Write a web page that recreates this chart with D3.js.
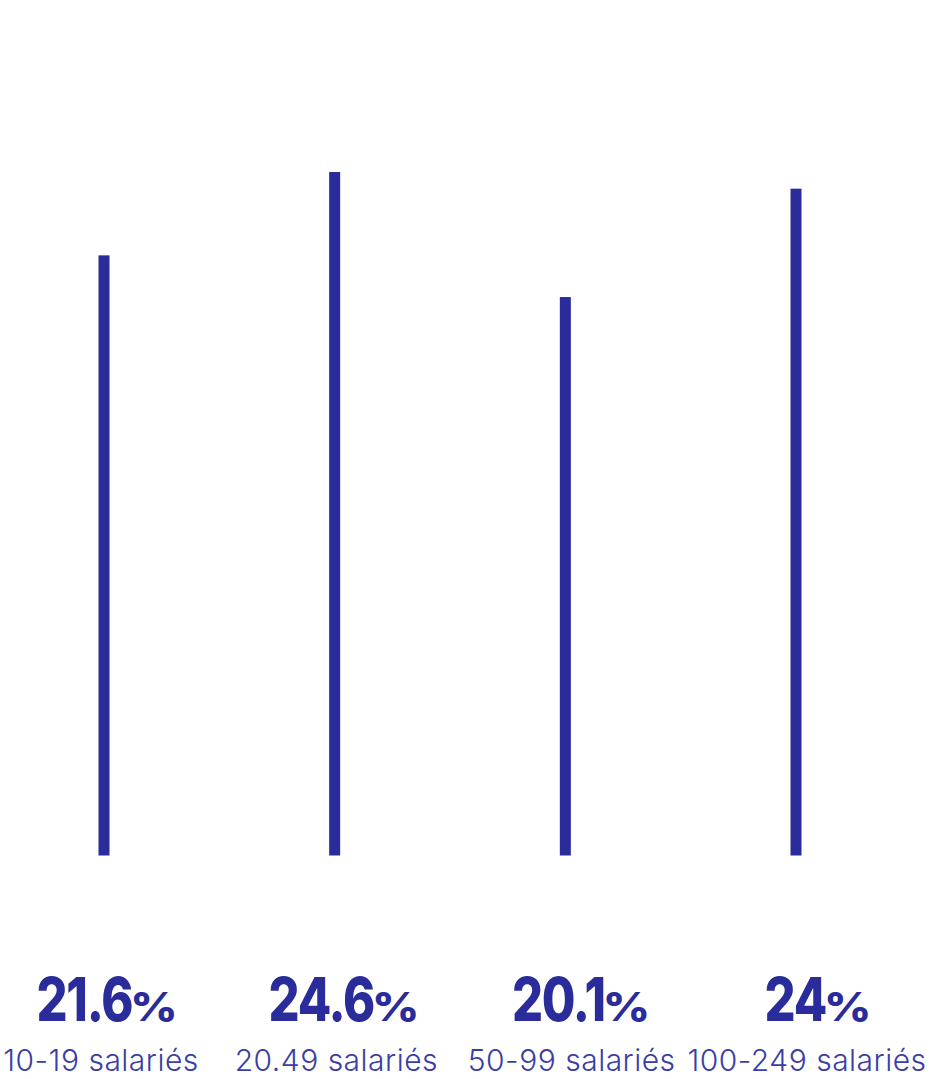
<!DOCTYPE html>
<html>
<head>
<meta charset="utf-8">
<script src="https://cdn.jsdelivr.net/npm/d3@7"></script>
<style>
  html, body { margin: 0; padding: 0; background: #ffffff; }
  svg { display: block; }
</style>
</head>
<body>
<div id="chart"></div>
<script>
// ---- data ----
const categories = ["10-19 salariés", "20.49 salariés", "50-99 salariés", "100-249 salariés"];
const values = [21.6, 24.6, 20.1, 24];
const valueLabels = ["21.6", "24.6", "20.1", "24"];

// ---- layout ----
const W = 933, H = 1079;
const color = "#2b2c9b";
const labelColor = "#3a3ea6";

const svg = d3.select("#chart").append("svg")
  .attr("width", W).attr("height", H);

const x = d3.scalePoint().domain(categories).range([104, 796]);      // bars
const xv = d3.scalePoint().domain(categories).range([107, 818]);     // value labels
const xl = d3.scalePoint().domain(categories).range([101, 807]);     // category labels
const y = d3.scaleLinear().domain([0, 24.6]).range([855.5, 172]);

const data = categories.map((c, i) => ({ cat: c, value: values[i], label: valueLabels[i] }));

svg.selectAll("rect.bar").data(data).enter().append("rect")
  .attr("class", "bar")
  .attr("x", d => x(d.cat) - 5.5)
  .attr("width", 11)
  .attr("y", d => y(d.value))
  .attr("height", d => y(0) - y(d.value))
  .attr("fill", color);

// value labels: condensed heavy number + wider "%"
const numSX = 0.8, pctSX = 1.15, gap = -2;
const vg = svg.selectAll("g.val").data(data).enter().append("g")
  .attr("class", "val");
vg.each(function(d) {
  const g = d3.select(this);
  const num = g.append("text")
    .attr("fill", color)
    .attr("font-family", "Inter, sans-serif")
    .attr("font-weight", 800)
    .attr("font-size", 61)
    .style("letter-spacing", "-1.5px")
    .text(d.label);
  const pct = g.append("text")
    .attr("fill", color)
    .attr("font-family", "Inter, sans-serif")
    .attr("font-weight", 800)
    .attr("font-size", 40)
    .text("%");
  const wn = num.node().getComputedTextLength() * numSX;
  const wp = pct.node().getComputedTextLength() * pctSX;
  const total = wn + gap + wp;
  const left = xv(d.cat) - total / 2;
  num.attr("transform", `translate(${left},1021) scale(${numSX},1)`);
  pct.attr("transform", `translate(${left + wn + gap},1021) scale(${pctSX},1)`);
});

svg.selectAll("text.cat").data(data).enter().append("text")
  .attr("class", "cat")
  .attr("x", d => xl(d.cat))
  .attr("y", 1071)
  .attr("text-anchor", "middle")
  .attr("fill", labelColor)
  .attr("font-family", "Inter, sans-serif")
  .attr("font-weight", 300)
  .attr("font-size", 30)
  .style("letter-spacing", "0.5px")
  .text(d => d.cat);
</script>
</body>
</html>
